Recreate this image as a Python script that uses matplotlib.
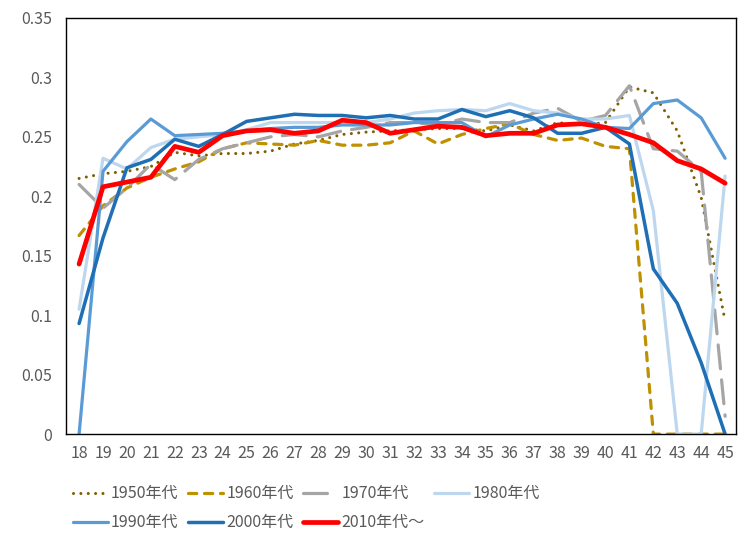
import numpy as np
import matplotlib
matplotlib.use('Agg')
import matplotlib.pyplot as plt

plt.rcParams['font.family'] = ['Noto Sans CJK JP', 'DejaVu Sans']

#ages on the category axis
ages = list(range(18, 46))

#values per decade
v1950 = [0.215, 0.219, 0.221, 0.225, 0.237, 0.234, 0.236, 0.236, 0.238, 0.244,
         0.247, 0.252, 0.254, 0.255, 0.256, 0.257, 0.257, 0.255, 0.260, 0.255,
         0.262, 0.260, 0.262, 0.292, 0.287, 0.255, 0.199, 0.095]
v1960 = [0.167, 0.192, 0.207, 0.216, 0.223, 0.229, 0.240, 0.245, 0.244, 0.243,
         0.247, 0.243, 0.243, 0.245, 0.255, 0.244, 0.252, 0.257, 0.261, 0.252,
         0.247, 0.249, 0.242, 0.240, 0.0, 0.0, 0.0, 0.0]
v1970 = [0.210, 0.190, 0.207, 0.227, 0.214, 0.231, 0.240, 0.245, 0.250, 0.252,
         0.250, 0.255, 0.258, 0.262, 0.262, 0.260, 0.265, 0.262, 0.262, 0.270,
         0.274, 0.263, 0.268, 0.293, 0.240, 0.238, 0.221, 0.015]
v1980 = [0.105, 0.232, 0.223, 0.241, 0.248, 0.250, 0.252, 0.256, 0.262, 0.262,
         0.262, 0.262, 0.262, 0.265, 0.270, 0.272, 0.273, 0.272, 0.278, 0.272,
         0.270, 0.265, 0.265, 0.268, 0.188, 0.0, 0.0, 0.217]
v1990 = [0.0, 0.221, 0.246, 0.265, 0.251, 0.252, 0.253, 0.255, 0.257, 0.258,
         0.258, 0.260, 0.260, 0.260, 0.262, 0.262, 0.262, 0.250, 0.260, 0.265,
         0.269, 0.265, 0.258, 0.257, 0.278, 0.281, 0.266, 0.232]
v2000 = [0.093, 0.165, 0.224, 0.231, 0.248, 0.242, 0.252, 0.263, 0.266, 0.269,
         0.268, 0.268, 0.266, 0.268, 0.265, 0.265, 0.273, 0.267, 0.272, 0.266,
         0.253, 0.253, 0.258, 0.244, 0.139, 0.110, 0.060, 0.0]
v2010 = [0.143, 0.208, 0.212, 0.216, 0.242, 0.237, 0.251, 0.255, 0.256, 0.253,
         0.255, 0.264, 0.262, 0.253, 0.256, 0.259, 0.258, 0.251, 0.253, 0.253,
         0.260, 0.261, 0.258, 0.252, 0.245, 0.230, 0.223, 0.211]

labels = ['1950年代', '1960年代', '1970年代', '1980年代', '1990年代', '2000年代', '2010年代〜']
series = [v1950, v1960, v1970, v1980, v1990, v2000, v2010]
colors = ['#7F6000', '#BF9000', '#A5A5A5', '#BDD7EE', '#5B9BD5', '#1F6FB5', '#FF0000']
styles = [(0, (0.01, 2.4)), (0, (2.6, 2.4)), (0, (7.5, 3.5)), '-', '-', '-', '-']
widths = [2.2, 2.3, 2.3, 2.3, 2.3, 2.5, 3.4]

fig = plt.figure(figsize=(7.55, 5.44), dpi=100)
ax = fig.add_axes([0.087, 0.202, 0.888, 0.765])

lines = []
for vals, lab, c, ls, lw in zip(series, labels, colors, styles, widths):
    ln, = ax.plot(ages, vals, color=c, linestyle=ls, linewidth=lw, label=lab,
                  dash_capstyle='round', solid_capstyle='round', solid_joinstyle='round')
    lines.append(ln)

ax.set_xlim(17.44, 45.46)
ax.set_ylim(0, 0.35)
ax.set_xticks(ages)
ax.set_xticklabels([str(a) for a in ages])
yt = [0, 0.05, 0.1, 0.15, 0.2, 0.25, 0.3, 0.35]
ax.set_yticks(yt)
ax.set_yticklabels(['0', '0.05', '0.1', '0.15', '0.2', '0.25', '0.3', '0.35'])
ax.tick_params(length=0, colors='#595959', labelsize=11.5)
ax.tick_params(axis='x', pad=8)
ax.tick_params(axis='y', pad=10)
for s in ax.spines.values():
    s.set_color('black')
    s.set_linewidth(1.0)

#legend filled row by row (matplotlib fills by column)
order = [0, 4, 1, 5, 2, 6, 3]
fig.legend([lines[i] for i in order], [labels[i] for i in order],
           loc='upper left', bbox_to_anchor=(0.077, 0.134), ncol=4, frameon=False,
           fontsize=11.5, handlelength=2.2, handletextpad=0.2, columnspacing=0.6,
           labelspacing=0.75, labelcolor='#595959')

plt.savefig('out.png', dpi=100)
